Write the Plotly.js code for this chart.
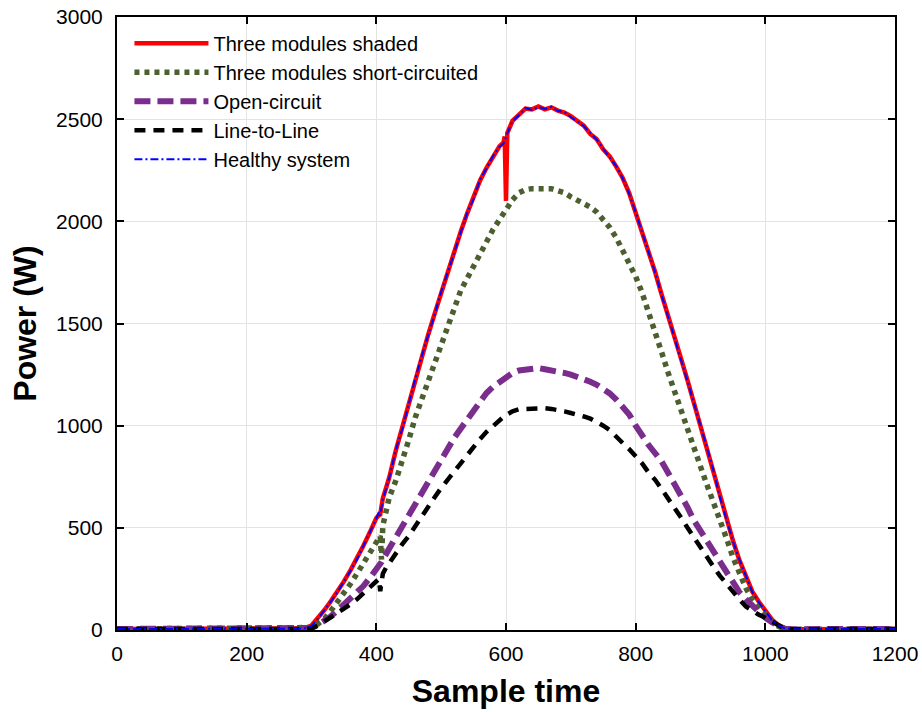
<!DOCTYPE html>
<html>
<head>
<meta charset="utf-8">
<script src="https://cdn.plot.ly/plotly-3.0.1.min.js"></script>
<style>
html,body{margin:0;padding:0;background:#fff;}
#chart{width:922px;height:712px;}
</style>
</head>
<body>
<div id="chart"></div>
<script>
// Sample time grid (shared by all series)
const sampleTime = [
  0, 50, 100, 150, 200, 250, 280, 290, 300, 310,
  320, 330, 340, 350, 360, 370, 380, 390, 400, 404,
  406, 408, 410, 415, 420, 430, 440, 450, 460, 470,
  480, 490, 500, 510, 520, 530, 540, 550, 560, 570,
  580, 590, 596, 598, 600, 602, 610, 620, 630, 640,
  650, 660, 670, 680, 690, 700, 710, 720, 730, 740,
  750, 760, 770, 780, 790, 800, 810, 820, 830, 840,
  850, 860, 870, 880, 890, 900, 910, 920, 930, 940,
  950, 960, 970, 980, 990, 1000, 1010, 1020, 1030, 1040,
  1050, 1100, 1150, 1200
];

const threeModulesShaded = [
  5, 5, 4, 5, 4, 5, 6, 8, 22, 58,
  98, 142, 188, 238, 292, 348, 412, 478, 548, 562,
  565, 605, 645, 695, 748, 878, 990, 1108, 1228, 1345,
  1445, 1548, 1652, 1750, 1848, 1948, 2038, 2115, 2200, 2262,
  2318, 2368, 2385, 2415, 2100, 2432, 2492, 2525, 2552, 2548,
  2562, 2548, 2558, 2542, 2532, 2515, 2488, 2468, 2428, 2402,
  2352, 2318, 2268, 2212, 2138, 2042, 1952, 1848, 1752, 1642,
  1532, 1438, 1328, 1222, 1108, 1002, 888, 778, 652, 548,
  438, 342, 262, 188, 138, 92, 52, 24, 9, 4,
  4, 5, 4, 5
];

const threeModulesShortCircuited = [
  5, 6, 5, 4, 5, 5, 5, 6, 12, 30,
  55, 95, 135, 180, 225, 275, 325, 380, 425, 450,
  460, 345, 510, 580, 650, 730, 820, 930, 1040, 1130,
  1215, 1305, 1400, 1495, 1580, 1660, 1720, 1785, 1845, 1900,
  1960, 2010, 2040, 2050, 2060, 2070, 2105, 2140, 2155, 2160,
  2160, 2165, 2160, 2150, 2140, 2120, 2105, 2090, 2070, 2045,
  2010, 1970, 1920, 1860, 1800, 1730, 1650, 1560, 1460, 1360,
  1260, 1170, 1080, 1000, 900, 800, 710, 625, 545, 450,
  355, 275, 205, 150, 110, 70, 40, 18, 6, 4,
  4, 5, 5, 4
];

const openCircuit = [
  5, 6, 4, 5, 5, 5, 5, 6, 10, 25,
  45, 68, 95, 125, 152, 180, 215, 255, 294, 312,
  322, 333, 345, 372, 405, 462, 515, 568, 620, 672,
  725, 778, 835, 890, 940, 985, 1032, 1075, 1120, 1160,
  1190, 1215, 1230, 1236, 1240, 1245, 1258, 1270, 1275, 1280,
  1282, 1276, 1272, 1268, 1258, 1250, 1240, 1230, 1215, 1200,
  1180, 1158, 1128, 1095, 1055, 1000, 950, 905, 865, 825,
  770, 715, 660, 600, 535, 485, 440, 390, 343, 290,
  240, 185, 150, 120, 85, 60, 38, 18, 6, 4,
  4, 5, 5, 5
];

const lineToLine = [
  5, 4, 5, 5, 4, 5, 5, 5, 8, 22,
  42, 60, 80, 102, 125, 150, 178, 205, 235, 250,
  190, 265, 275, 305, 330, 380, 420, 460, 510, 555,
  605, 650, 695, 735, 780, 820, 860, 900, 935, 970,
  1000, 1028, 1042, 1048, 1052, 1056, 1070, 1080, 1082, 1085,
  1088, 1085, 1082, 1078, 1070, 1062, 1055, 1045, 1035, 1020,
  1000, 978, 950, 915, 885, 850, 815, 770, 735, 690,
  645, 600, 550, 500, 450, 400, 360, 310, 265, 225,
  190, 150, 115, 92, 75, 60, 42, 20, 6, 4,
  4, 5, 4, 5
];

const healthySystem = [
  5, 5, 4, 5, 4, 5, 6, 8, 20, 55,
  95, 140, 185, 235, 290, 345, 410, 475, 545, 578,
  560, 600, 640, 690, 745, 880, 985, 1105, 1230, 1340,
  1440, 1545, 1655, 1745, 1845, 1945, 2040, 2110, 2205, 2260,
  2320, 2365, 2380, 2400, 2410, 2430, 2490, 2520, 2555, 2545,
  2560, 2550, 2560, 2540, 2535, 2510, 2490, 2465, 2430, 2400,
  2355, 2315, 2270, 2210, 2135, 2045, 1950, 1850, 1750, 1640,
  1535, 1435, 1330, 1220, 1110, 1000, 885, 780, 650, 545,
  435, 345, 260, 185, 135, 90, 50, 22, 8, 4,
  4, 5, 4, 5
];

const seriesNames = [
  "Three modules shaded",
  "Three modules short-circuited",
  "Open-circuit",
  "Line-to-Line",
  "Healthy system"
];

const xTicks = [0, 200, 400, 600, 800, 1000, 1200];
const yTicks = [0, 500, 1000, 1500, 2000, 2500, 3000];

const FONT = "Liberation Sans, Arial, Helvetica, sans-serif";

const traces = [
  {x: sampleTime, y: threeModulesShaded, name: seriesNames[0], mode: "lines",
   line: {color: "#ff0000", width: 4.5}},
  {x: sampleTime, y: threeModulesShortCircuited, name: seriesNames[1], mode: "lines",
   line: {color: "#4b5f2f", width: 5.5, dash: "5px,5px"}},
  {x: sampleTime, y: openCircuit, name: seriesNames[2], mode: "lines",
   line: {color: "#7b2d8e", width: 6, dash: "16px,7px"}},
  {x: sampleTime, y: lineToLine, name: seriesNames[3], mode: "lines",
   line: {color: "#000000", width: 4.5, dash: "11px,8px"}},
  {x: sampleTime, y: healthySystem, name: seriesNames[4], mode: "lines",
   line: {color: "#0000ff", width: 2, dash: "8px,3px,2px,3px"}}
];

const axisCommon = {
  showline: true, linecolor: "#000", linewidth: 2, mirror: "ticks",
  ticks: "inside", ticklen: 7, tickwidth: 2, tickcolor: "#000",
  showgrid: true, gridcolor: "#e3e3e3", gridwidth: 1,
  zeroline: false,
  tickfont: {family: FONT, size: 21, color: "#000"}
};

const layout = {
  width: 922, height: 712,
  margin: {l: 117, r: 27, t: 17, b: 82},
  paper_bgcolor: "#fff", plot_bgcolor: "#fff",
  showlegend: true,
  legend: {
    x: 0.016, y: 0.989, xanchor: "left", yanchor: "top",
    bgcolor: "rgba(0,0,0,0)", borderwidth: 0,
    font: {family: FONT, size: 20, color: "#000"},
    itemwidth: 74, tracegroupgap: 0
  },
  xaxis: Object.assign({}, axisCommon, {
    range: [0, 1200], tickvals: xTicks, ticktext: xTicks.map(String),
    ticklabelstandoff: 4,
    title: {text: "<b>Sample time</b>", font: {family: FONT, size: 32, color: "#000"}, standoff: 15}
  }),
  yaxis: Object.assign({}, axisCommon, {
    range: [0, 3000], tickvals: yTicks, ticktext: yTicks.map(String),
    ticklabelstandoff: 8,
    title: {text: "<b>Power (W)</b>", font: {family: FONT, size: 32, color: "#000"}, standoff: 10}
  })
};

Plotly.newPlot("chart", traces, layout, {displayModeBar: false, staticPlot: true});
</script>
</body>
</html>
